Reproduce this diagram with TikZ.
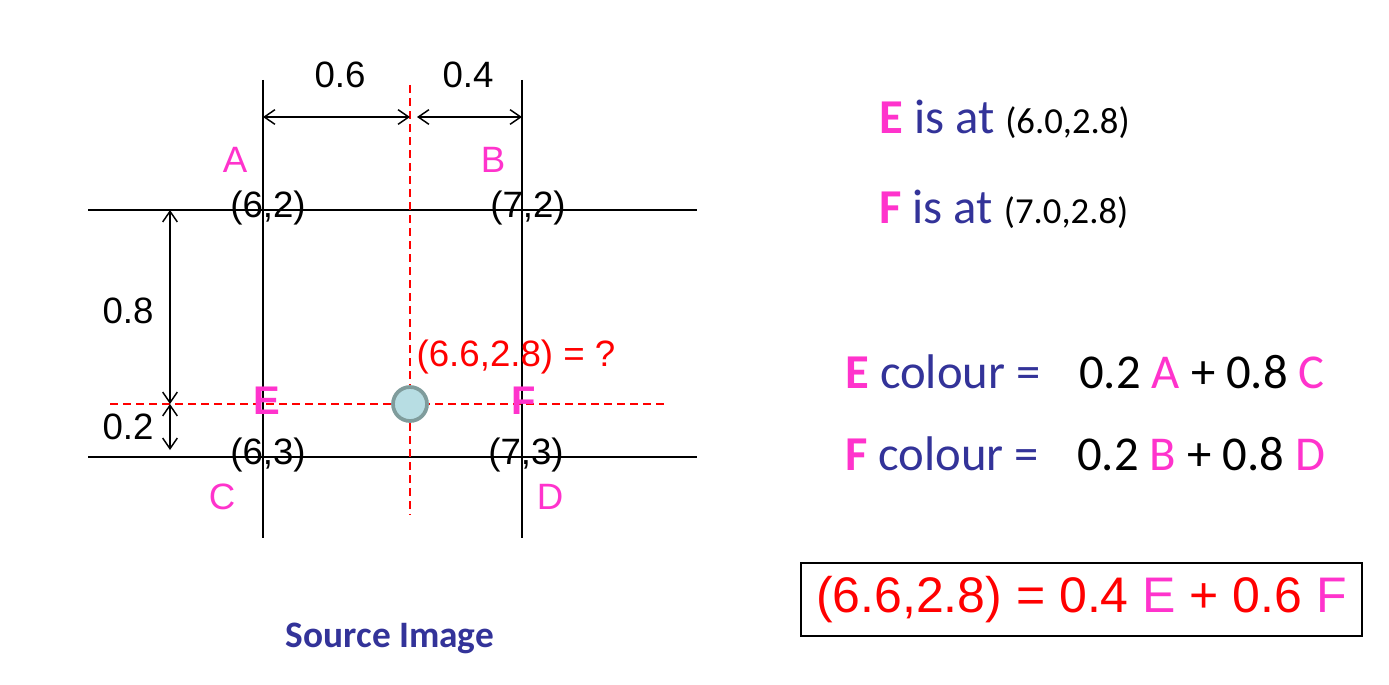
\documentclass[tikz,border=0pt]{standalone}
\usepackage{fontspec}
\setmainfont{Liberation Sans}
\newfontfamily\calibri{Carlito}
\usetikzlibrary{arrows.meta}
\definecolor{pinkc}{HTML}{FF33CC}
\definecolor{navyc}{HTML}{333399}
\definecolor{ringc}{HTML}{7F9C9C}
\definecolor{dotc}{HTML}{B7DDE3}

\begin{document}
\begin{tikzpicture}
[x=0.75pt,y=-0.75pt
,grid/.style={draw,line width=1.6pt}
,guide/.style={draw=red,line width=1.5pt,dash pattern=on 6pt off 3.75pt}
,dim/.style={draw,line width=1.1pt,arrows={Straight Barb[length=8pt,width=11pt]-Straight Barb[length=8pt,width=11pt]}}
,lbl/.style={inner sep=0pt,font=\fontsize{27.5}{30}\selectfont}
,corner/.style={lbl,text=pinkc}
,rtxt/.style={inner sep=0pt,anchor=base west,text=navyc,font=\calibri\fontsize{36.5}{40}\selectfont}
]
\useasboundingbox (0,0) rectangle (1389,685);
% grid lines
\coordinate (v1t) at (263,80);  \coordinate (v1b) at (263,538);
\coordinate (v2t) at (522,80);  \coordinate (v2b) at (522,538);
\coordinate (h1l) at (88,210);  \coordinate (h1r) at (697,210);
\coordinate (h2l) at (88,457);  \coordinate (h2r) at (697,457);
\draw[grid] (v1t) -- (v1b);
\draw[grid] (v2t) -- (v2b);
\draw[grid] (h1l) -- (h1r);
\draw[grid] (h2l) -- (h2r);
% guides through the sample point
\coordinate (gvt) at (410,85);  \coordinate (gvb) at (410,515);
\coordinate (ghl) at (110,404); \coordinate (ghr) at (665,404);
\draw[guide] (gvt) -- (gvb);
\draw[guide] (ghl) -- (ghr);
% dimensions
\coordinate (a1) at (263,117); \coordinate (a2) at (410,117);
\coordinate (a3) at (417,117); \coordinate (a4) at (522,117);
\coordinate (b1) at (170,210); \coordinate (b2) at (170,404);
\coordinate (b3) at (170,450);
\draw[dim] (a1) -- (a2);
\draw[dim] (a3) -- (a4);
\draw[dim] (b1) -- (b2);
\draw[dim] (b2) -- (b3);
\node[lbl] (d06) at (340,75) {0.6};
\node[lbl] (d04) at (468,75) {0.4};
\node[lbl] (d08) at (128,311) {0.8};
\node[lbl] (d02) at (128,427) {0.2};
% corners
\node[corner] (A) at (235,160) {A};
\node[corner] (B) at (493,160) {B};
\node[corner] (C) at (222,497) {C};
\node[corner] (D) at (550,497) {D};
\node[lbl] (pA) at (268,208) {(6,2)};
\node[lbl] (pB) at (528,208) {(7,2)};
\node[lbl] (pC) at (268,455) {(6,3)};
\node[lbl] (pD) at (526,455) {(7,3)};
\node[corner,font=\bfseries\fontsize{30}{32}\selectfont] (E) at (267,401) {E};
\node[corner,font=\bfseries\fontsize{30}{32}\selectfont] (F) at (524,401) {F};
% sample point
\node[circle,draw=ringc,fill=dotc,line width=2.8pt,minimum size=34pt*0.75,inner sep=0pt] (P) at (410,404) {};
\node[lbl,text=red] (q) at (516,357) {(6.6,2.8) = ?};
\node[inner sep=0pt,text=navyc,font=\calibri\bfseries\fontsize{28}{30}\selectfont] (src) at (390,638) {Source Image};
% right side
\node[rtxt] (Eat) at (879,133) {{\bfseries\color{pinkc}E} is at \textcolor{black}{\fontsize{27.5}{30}\selectfont(6.0,2.8)}};
\node[rtxt] (Fat) at (879,223) {{\bfseries\color{pinkc}F} is at \textcolor{black}{\fontsize{27.5}{30}\selectfont(7.0,2.8)}};
\node[rtxt] (Ecol) at (845,388) {{\bfseries\color{pinkc}E} colour =};
\node[rtxt,text=black] (Esum) at (1079,388) {0.2 \textcolor{pinkc}{A} + 0.8 \textcolor{pinkc}{C}};
\node[rtxt] (Fcol) at (845,470) {{\bfseries\color{pinkc}F} colour =};
\node[rtxt,text=black] (Fsum) at (1077,470) {0.2 \textcolor{pinkc}{B} + 0.8 \textcolor{pinkc}{D}};
\node[draw,line width=1.5pt,minimum width=561*0.75pt,minimum height=73*0.75pt,inner sep=0pt,text=red,font=\fontsize{37.5}{40}\selectfont] (res) at (1081.5,599.5) {(6.6,2.8) = 0.4 \textcolor{pinkc}{E} + 0.6 \textcolor{pinkc}{F}};
\end{tikzpicture}
\end{document}
